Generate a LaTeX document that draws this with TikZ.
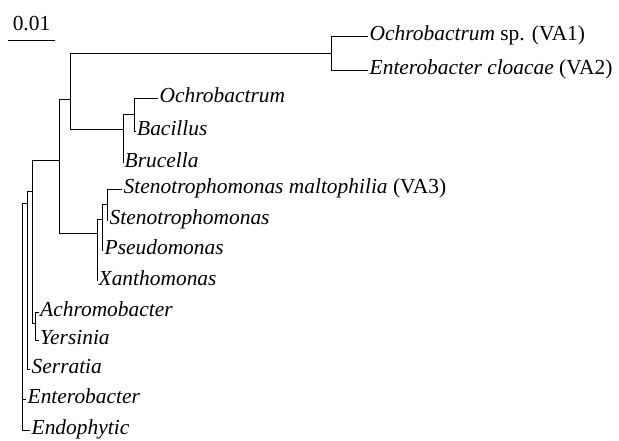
\documentclass[tikz,border=0pt]{standalone}
\usepackage{fontspec}
\setmainfont{Liberation Serif}
\usetikzlibrary{positioning}
\begin{document}
\begin{tikzpicture}[x=1bp,y=-1bp,
  taxon/.style={anchor=west,inner xsep=1.5bp,inner ysep=0pt,text height=0.82em,text depth=0pt,font=\fontsize{21.5}{25}\selectfont\itshape},
  branch/.style={line width=0.9bp,line cap=rect}]
\useasboundingbox (0,0) rectangle (619,441);
\coordinate (n0) at (22.7,203);
\coordinate (n1) at (27,203);
\coordinate (n2) at (32,191);
\coordinate (n3) at (59,160);
\coordinate (n4) at (35,323);
\coordinate (n5) at (70,99);
\coordinate (n6) at (97,233);
\coordinate (n7) at (331,53);
\coordinate (n8) at (123,129);
\coordinate (n9) at (134,114);
\coordinate (n10) at (102,219);
\coordinate (n11) at (107,204);
\node[taxon] (va1) at (368,36) {Ochrobactrum \textup{sp. (VA1)}};
\node[taxon] (va2) at (368,70) {Enterobacter cloacae \textup{(VA2)}};
\node[taxon] (ochro) at (158,98) {Ochrobactrum};
\node[taxon] (bacil) at (135.5,131) {Bacillus};
\node[taxon] (bruc) at (123,163) {Brucella};
\node[taxon] (va3) at (122,189) {Stenotrophomonas maltophilia \textup{(VA3)}};
\node[taxon] (steno) at (108,220) {Stenotrophomonas};
\node[taxon] (pseudo) at (103,250) {Pseudomonas};
\node[taxon] (xantho) at (97,281) {Xanthomonas};
\node[taxon] (achro) at (38.5,312) {Achromobacter};
\node[taxon] (yers) at (38.5,340) {Yersinia};
\node[taxon] (serr) at (30,369) {Serratia};
\node[taxon] (entero) at (26,399) {Enterobacter};
\node[taxon] (endo) at (30,430) {Endophytic};
\draw[branch] (n0) |- (n1) (n0) |- (entero.west) (n0) |- (endo.west);
\draw[branch] (n1) |- (n2) (n1) |- (serr.west);
\draw[branch] (n2) |- (n3) (n2) |- (n4);
\draw[branch] (n4) |- (achro.west) (n4) |- (yers.west);
\draw[branch] (n3) |- (n5) (n3) |- (n6);
\draw[branch] (n5) |- (n7) (n5) |- (n8);
\draw[branch] (n7) |- (va1.west) (n7) |- (va2.west);
\draw[branch] (n8) |- (n9) (n8) |- (bruc.west);
\draw[branch] (n9) |- (ochro.west) (n9) |- (bacil.west);
\draw[branch] (n6) |- (n10) (n6) |- (xantho.west);
\draw[branch] (n10) |- (n11) (n10) |- (pseudo.west);
\draw[branch] (n11) |- (va3.west) (n11) |- (steno.west);
\coordinate (bar1) at (8,40);
\coordinate (bar2) at (55,40);
\draw[branch] (bar1) -- node[above=9bp,inner sep=0pt,font=\fontsize{21.5}{25}\selectfont] (barlabel) {0.01} (bar2);
\end{tikzpicture}
\end{document}
